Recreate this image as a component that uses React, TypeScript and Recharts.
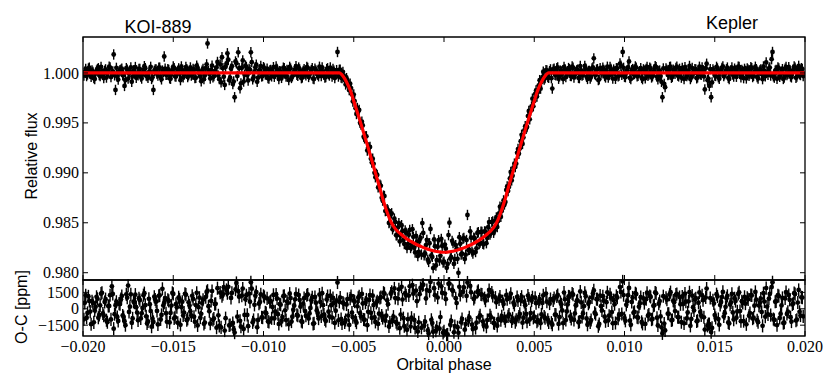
import { ComposedChart, Scatter, Line, XAxis, YAxis, ErrorBar, ReferenceArea } from 'recharts'

// first cadence set: orbital phase in units of 1e-4
const PHASE_E4_A = [
  -199, -198, -197, -196, -195, -194, -193, -192, -191, -190,
  -189, -188, -187, -186, -185, -184, -183, -182, -181, -180,
  -179, -178, -177, -176, -175, -174, -173, -172, -171, -170,
  -169, -168, -167, -166, -165, -164, -163, -162, -161, -160,
  -159, -158, -157, -156, -155, -154, -153, -152, -151, -150,
  -149, -148, -147, -146, -145, -144, -143, -142, -141, -140,
  -139, -138, -137, -136, -135, -134, -133, -132, -131, -130,
  -129, -128, -127, -126, -125, -124, -123, -122, -121, -120,
  -119, -118, -117, -116, -115, -114, -113, -112, -111, -110,
  -109, -108, -107, -106, -105, -104, -103, -102, -101, -100,
  -99, -98, -97, -96, -95, -94, -93, -92, -91, -90,
  -89, -88, -87, -86, -85, -84, -83, -82, -81, -80,
  -79, -78, -77, -76, -75, -74, -73, -72, -71, -70,
  -69, -68, -67, -66, -65, -64, -63, -62, -61, -60,
  -59, -58, -57, -56, -55, -54, -53, -52, -51, -50,
  -49, -48, -47, -46, -45, -44, -43, -42, -41, -40,
  -39, -38, -37, -36, -35, -34, -33, -32, -31, -30,
  -29, -28, -27, -26, -25, -24, -23, -22, -21, -20,
  -19, -18, -17, -16, -15, -14, -13, -12, -11, -10,
  -9, -8, -7, -6, -5, -4, -3, -2, -1, 0,
  1, 2, 3, 4, 5, 6, 7, 8, 9, 10,
  11, 12, 13, 14, 15, 16, 17, 18, 19, 20,
  21, 22, 23, 24, 25, 26, 27, 28, 29, 30,
  31, 32, 33, 34, 35, 36, 37, 38, 39, 40,
  41, 42, 43, 44, 45, 46, 47, 48, 49, 50,
  51, 52, 53, 54, 55, 56, 57, 58, 59, 60,
  61, 62, 63, 64, 65, 66, 67, 68, 69, 70,
  71, 72, 73, 74, 75, 76, 77, 78, 79, 80,
  81, 82, 83, 84, 85, 86, 87, 88, 89, 90,
  91, 92, 93, 94, 95, 96, 97, 98, 99, 100,
  101, 102, 103, 104, 105, 106, 107, 108, 109, 110,
  111, 112, 113, 114, 115, 116, 117, 118, 119, 120,
  121, 122, 123, 124, 125, 126, 127, 128, 129, 130,
  131, 132, 133, 134, 135, 136, 137, 138, 139, 140,
  141, 142, 143, 144, 145, 146, 147, 148, 149, 150,
  151, 152, 153, 154, 155, 156, 157, 158, 159, 160,
  161, 162, 163, 164, 165, 166, 167, 168, 169, 170,
  171, 172, 173, 174, 175, 176, 177, 178, 179, 180,
  181, 182, 183, 184, 185, 186, 187, 188, 189, 190,
  191, 192, 193, 194, 195, 196, 197, 198, 199,
]

// relative flux minus 1, ppm
const FLUX_PPM_A = [
  120, -310, 450, -80, 260, -520, 30, 380, -210, 610,
  -140, 220, -460, 90, 540, -30, 1850, -1700, -380, 150,
  330, -240, -1300, 480, -560, 70, -890, 260, 590, -120,
  410, -350, 20, 680, -270, -480, 160, -600, -1700, 350,
  -90, 520, -410, 240, 1650, -180, 370, -530, 110, 640,
  -330, 50, 460, -720, 280, -150, 590, -410, 130, -260,
  390, -510, 720, 60, -340, 230, -620, 470, 2950, -90,
  310, -440, 180, 550, -270, 860, 1570, -380, 640, 1970,
  -720, 430, -1100, -2430, 980, 2070, -1530, 520, -860, 740,
  -230, 390, 2070, -640, 150, 820, -470, 260, -350, 580,
  -150, 420, -560, 310, 70, -380, 640, -220, 180, -490,
  530, -60, 290, -710, 440, -330, 120, 670, -280, 360,
  -520, 210, -90, 590, -400, 30, 480, -610, 250, -170,
  620, -310, 140, -450, 380, -120, 540, -360, 230, -80,
  2100, 310, -470, 110, -730, -520, -1360, -1080, -2150, -2160,
  -3530, -3510, -3700, -5160, -5250, -6550, -6340, -7470, -7410, -8970,
  -9100, -10440, -10210, -11350, -11300, -12780, -12330, -13790, -13770, -14960,
  -14050, -15430, -14920, -16260, -15030, -16290, -15840, -17120, -15990, -17130,
  -15720, -17330, -16410, -17970, -16940, -17910, -16520, -15030, -18260, -17230,
  -18690, -17050, -18270, -19540, -17340, -18740, -16750, -18310, -17325, -18900,
  -17595, -19120, -14990, -18440, -17030, -18630, -17580, -20010, -17100, -18080,
  -16520, -18190, -14220, -17700, -16490, -18070, -16570, -17560, -15950, -16980,
  -15910, -17150, -15890, -16520, -14930, -16010, -14860, -15740, -14470, -14820,
  -13390, -13810, -12760, -12920, -11370, -11410, -9910, -10290, -9080, -9080,
  -7620, -7570, -6190, -6470, -5330, -5410, -3810, -3780, -2580, -2820,
  -1750, -1940, -720, -910, 120, -500, 240, -480, 360, -1560,
  420, -230, 560, -340, 150, -610, 380, -70, 490, -290,
  640, -450, 110, 330, -520, 250, -180, 700, -390, 190,
  -560, 450, 1460, -220, 380, -640, 90, 520, -310, 270,
  -470, 610, -120, 340, -580, 460, -250, 720, 2100, -380,
  150, 560, -490, 280, -160, 650, -330, 80, 470, -620,
  240, 390, -280, 530, -450, 120, 680, -370, 210, -310,
  -2430, -1100, 460, -200, 590, -480, 330, -90, 620, -340,
  180, 510, -610, 290, -150, 700, -420, 60, 380, -530,
  240, -130, 560, -350, 470, -720, -1300, -2430, 350, -260,
  610, -430, 150, 490, -320, 80, 540, -610, 270, -150,
  430, -380, 620, -90, 310, -520, 210, 460, -290, 580,
  -410, 130, 380, -560, 240, -130, 650, -330, 90, 420,
  -260, 2100, -470, 310, 560, -380, 140, -600, 430, -220,
  570, -350, 180, 650, -490, 260, -130, 480, -310,
]

// observed minus computed, ppm
const OC_PPM_A = [
  540, -820, 1130, -260, 690, -1240, 180, 910, -570, 1380,
  -430, 620, -1050, 250, 1240, 2050, -1820, 330, -760, 470,
  880, -610, -1150, 1320, 2120, 190, -1280, 640, 1290, -350,
  960, -880, 70, 1430, -690, -1160, 420, -1640, -1200, 850,
  -200, 1180, -970, 1820, 560, -410, 830, -1250, 290, 1360,
  -780, 140, 1050, -1470, 640, -350, 1290, -920, 310, -600,
  900, -1190, 1460, 150, -810, 520, -1380, 1070, 1650, -230,
  720, -1010, 430, -1730, -600, 1480, 1150, 1970, -860, 1420,
  -1520, 990, -1300, -2180, 2360, 1600, -1100, 1200, -1850, 870,
  -560, 1380, 2420, -1240, 360, 1530, -1020, 610, -780, 1180,
  -330, 950, -1210, 700, 160, -880, 1310, -500, 420, -1090,
  1150, -140, 660, -1420, 980, -730, 280, 1360, -640, 820,
  -1130, 470, -210, 1240, -890, 70, 1050, -1330, 560, -380,
  1300, -690, 330, -980, 850, -270, 1190, -810, 520, -180,
  2400, 640, -950, 560, -1240, 390, -620, 930, -350, 760,
  -1080, 220, 1130, -700, 480, -1010, 850, -280, 1250, -830,
  340, -1200, 690, -450, 1060, -850, 1380, -640, 420, -1260,
  1550, -720, 980, -1380, 1780, -530, 840, -1600, 1230, -950,
  2050, -820, 1380, -1750, 690, -1240, 1900, 2150, -1530, 940,
  -1980, 1620, -1010, -2100, 1240, -1690, 2300, -760, 1450, -2050,
  880, -2350, 2300, -1120, 1630, -1580, 520, -2200, 1270, -930,
  1950, -1400, 2400, -780, 1500, -1850, 1060, -1270, 1640, -600,
  1290, -1480, 740, -1030, 1720, -790, 1180, -1340, 590, -960,
  1120, -680, 430, -1130, 880, -520, 1370, -880, 350, -1010,
  760, -470, 1100, -820, 330, -1180, 940, -390, 1050, -730,
  510, -1040, 870, -520, 1230, -860, 640, -1250, 890, -1450,
  980, -560, 1260, -770, 410, -1320, 860, -250, 1130, -690,
  1400, -1020, 330, 770, -1180, 590, -430, 1450, -880, 460,
  -1250, 1040, 1680, -490, 870, -1390, 230, 1150, -720, 600,
  -1060, 1330, -300, 790, -1300, 1020, -560, 1540, 2500, -850,
  360, 1240, -1090, 630, -370, 1420, -760, 190, 1060, -1380,
  520, 880, -640, 1170, -990, 270, 1490, -820, 460, -700,
  -2250, -1350, 1010, -450, 1290, -1060, 740, -210, 1350, -780,
  410, 1120, -1330, 650, -340, 1510, -930, 140, 860, -1150,
  550, -290, 1220, -780, 1030, -1560, -1400, -2130, 780, -580,
  1330, -940, 340, 1070, -710, 180, 1180, -1340, 590, -330,
  960, -820, 1360, -210, 690, -1130, 470, 1010, -640, 1250,
  -900, 280, 830, -1230, 540, -290, 1420, -720, 200, 930,
  -580, 2420, -1020, 680, 1240, -840, 310, -1310, 950, -480,
  1260, -770, 400, 1430, -1080, 570, -280, 1050, -690,
]

// second cadence set: orbital phase in units of 1e-5
const PHASE_E5_B = [
  -1995, -1985, -1975, -1965, -1955, -1945, -1935, -1925, -1915, -1905,
  -1895, -1885, -1875, -1865, -1855, -1845, -1835, -1825, -1815, -1805,
  -1795, -1785, -1775, -1765, -1755, -1745, -1735, -1725, -1715, -1705,
  -1695, -1685, -1675, -1665, -1655, -1645, -1635, -1625, -1615, -1605,
  -1595, -1585, -1575, -1565, -1555, -1545, -1535, -1525, -1515, -1505,
  -1495, -1485, -1475, -1465, -1455, -1445, -1435, -1425, -1415, -1405,
  -1395, -1385, -1375, -1365, -1355, -1345, -1335, -1325, -1315, -1305,
  -1295, -1285, -1275, -1265, -1255, -1245, -1235, -1225, -1215, -1205,
  -1195, -1185, -1175, -1165, -1155, -1145, -1135, -1125, -1115, -1105,
  -1095, -1085, -1075, -1065, -1055, -1045, -1035, -1025, -1015, -1005,
  -995, -985, -975, -965, -955, -945, -935, -925, -915, -905,
  -895, -885, -875, -865, -855, -845, -835, -825, -815, -805,
  -795, -785, -775, -765, -755, -745, -735, -725, -715, -705,
  -695, -685, -675, -665, -655, -645, -635, -625, -615, -605,
  -595, -585, -575, -565, -555, -545, -535, -525, -515, -505,
  -495, -485, -475, -465, -455, -445, -435, -425, -415, -405,
  -395, -385, -375, -365, -355, -345, -335, -325, -315, -305,
  -295, -285, -275, -265, -255, -245, -235, -225, -215, -205,
  -195, -185, -175, -165, -155, -145, -135, -125, -115, -105,
  -95, -85, -75, -65, -55, -45, -35, -25, -15, -5,
  5, 15, 25, 35, 45, 55, 65, 75, 85, 95,
  105, 115, 125, 135, 145, 155, 165, 175, 185, 195,
  205, 215, 225, 235, 245, 255, 265, 275, 285, 295,
  305, 315, 325, 335, 345, 355, 365, 375, 385, 395,
  405, 415, 425, 435, 445, 455, 465, 475, 485, 495,
  505, 515, 525, 535, 545, 555, 565, 575, 585, 595,
  605, 615, 625, 635, 645, 655, 665, 675, 685, 695,
  705, 715, 725, 735, 745, 755, 765, 775, 785, 795,
  805, 815, 825, 835, 845, 855, 865, 875, 885, 895,
  905, 915, 925, 935, 945, 955, 965, 975, 985, 995,
  1005, 1015, 1025, 1035, 1045, 1055, 1065, 1075, 1085, 1095,
  1105, 1115, 1125, 1135, 1145, 1155, 1165, 1175, 1185, 1195,
  1205, 1215, 1225, 1235, 1245, 1255, 1265, 1275, 1285, 1295,
  1305, 1315, 1325, 1335, 1345, 1355, 1365, 1375, 1385, 1395,
  1405, 1415, 1425, 1435, 1445, 1455, 1465, 1475, 1485, 1495,
  1505, 1515, 1525, 1535, 1545, 1555, 1565, 1575, 1585, 1595,
  1605, 1615, 1625, 1635, 1645, 1655, 1665, 1675, 1685, 1695,
  1705, 1715, 1725, 1735, 1745, 1755, 1765, 1775, 1785, 1795,
  1805, 1815, 1825, 1835, 1845, 1855, 1865, 1875, 1885, 1895,
  1905, 1915, 1925, 1935, 1945, 1955, 1965, 1975, 1985,
]

const FLUX_PPM_B = [
  -260, 410, -150, 530, -380, 90, -610, 240, 470, -320,
  180, -520, 360, -90, 620, -410, 150, -240, 510, -660,
  270, 430, -180, -720, 320, -40, 560, -350, 110, -480,
  -230, 390, -560, 140, 470, -310, 60, 610, -420, 200,
  350, -270, 530, -640, 80, 420, -190, 300, -580, 160,
  480, -360, 220, -90, 650, -440, 10, 370, -230, 550,
  -170, 300, -480, 510, -60, -830, 410, -250, 860, 190,
  -560, 730, -320, 120, 1100, -620, -940, 480, -1200, 930,
  1320, -480, 680, -860, 1150, -310, 470, -1040, 1250, -180,
  600, -750, 310, 1080, -420, 560, -890, 240, 690, -300,
  450, -120, -520, 260, -340, 580, -60, 390, -610, 130,
  -240, 470, -370, 200, 610, -500, -30, 340, -180, 540,
  60, -450, 380, -230, 510, -160, 290, -570, 420, -40,
  -330, 250, 560, -190, -400, 470, -260, 130, 390, -510,
  280, -360, 335, -515, -270, -1150, -750, -1720, -1515, -2855,
  -2820, -4110, -3850, -4980, -4880, -6380, -6360, -7760, -7480, -8590,
  -8590, -10000, -10100, -11460, -11195, -12485, -12280, -13830, -13630, -15020,
  -14135, -15655, -14590, -16250, -15460, -16870, -15245, -16715, -15765, -17525,
  -16205, -17525, -15650, -17500, -16325, -18335, -16710, -18180, -16025, -18065,
  -16710, -18920, -15625, -18415, -16670, -19280, -17410, -18785, -16615, -18995,
  -17185, -19515, -16235, -18580, -16810, -19120, -17235, -18605, -16440, -18170,
  -16605, -18625, -16730, -17740, -15855, -17885, -16490, -17930, -16015, -17125,
  -15905, -17105, -15865, -17045, -15450, -16180, -14930, -16000, -14755, -15435,
  -14060, -14410, -13130, -13170, -11715, -11815, -10560, -10760, -9490, -9420,
  -8000, -8100, -6830, -7110, -5740, -5580, -4320, -4640, -3360, -3340,
  -2105, -2355, -1240, -1570, -420, -650, 285, -415, 180, -520,
  340, -190, 470, -580, 230, -60, 610, -420, 150, 380,
  -310, 520, -140, 260, -490, 690, -250, 80, 440, -600,
  210, -370, 560, -120, 330, -710, 480, -30, 290, -450,
  620, -220, 390, -560, 150, 470, -330, 940, -180, 510,
  -420, 260, 1150, -610, 390, -90, 530, -280, 170, -480,
  360, -540, 600, -170, 420, -330, 90, 570, -640, 240,
  -890, 450, -1420, 310, -150, 620, -380, 200, 510, -260,
  410, -470, 130, 580, -320, 240, -610, 490, -40, 350,
  -440, 620, -190, 280, -1650, 920, -560, 380, -950, 170,
  -300, 450, -580, 210, 660, -130, 370, -490, 120, 540,
  -360, 250, -70, 600, -430, 180, 410, -550, 320, -120,
  480, -290, 620, -400, 90, 350, -620, 230, 1050, -180,
  540, 1380, -330, 220, -590, 460, -150, 380, -470, 610,
  -80, 300, -440, 170, 520, -360, 710, -210, 390,
]

const OC_PPM_B = [
  -960, 1240, -380, 720, -1410, 530, -150, 1090, -820, 310,
  1460, -640, 880, -1230, 260, -970, 1350, -490, 640, -1120,
  430, 1170, -760, -1500, 1010, -290, 1320, -880, 560, 150,
  -1060, 790, -420, 1240, 330, -1350, 910, -210, -920, 1100,
  640, -1430, 1230, -560, 310, 980, -1190, 720, -380, 1450,
  -880, 420, -1280, 860, 150, -620, 1370, -1040, 590, -260,
  1180, -730, 340, -1520, 1010, -460, 820, -1260, 1540, 230,
  -1370, 1620, -890, 450, 1880, -1560, -1700, 1330, -1990, 1720,
  2010, -1480, 1450, -1900, 1760, -720, 1100, -1640, 1850, -560,
  1230, -1590, 640, 1840, -1020, 1190, -1700, 470, 1320, -810,
  1080, -400, -1160, 620, -870, 1270, -240, 940, -1390, 370,
  -760, 1190, -1030, 520, 1380, -1170, -90, 860, -560, 1250,
  190, -1210, 970, -640, 1310, -430, 780, -1380, 1080, -150,
  -900, 630, 1420, -520, -1120, 1160, -690, 320, 990, -1300,
  760, -1060, 1020, -1340, 450, -1030, 890, -1480, 1170, -770,
  650, -1270, 1010, -400, 1360, -980, 560, -1500, 810, -370,
  1190, -800, 540, -1390, 980, -620, 1470, -1090, 770, -1620,
  1380, -1050, 1860, -1230, 920, -1780, 2010, -860, 1430, -1920,
  1210, -1630, 2150, -1020, 1660, -2080, 1330, -1740, 2200, -1180,
  1710, -2260, 2450, -1310, 1880, -2010, 1020, -1820, 2050, -2200,
  1390, -2380, 2280, -1460, 1720, -2150, 960, -1690, 2010, -1240,
  1560, -1910, 1170, -1070, 2080, -1450, 890, -1760, 1530, -780,
  1320, -1170, 970, -1640, 1190, -600, 1480, -1300, 1020, -1560,
  860, -1040, 690, -870, 1240, -700, 1010, -1150, 560, -1220,
  1080, -720, 840, -1270, 620, -480, 1210, -980, 750, -830,
  1010, -1180, 650, -1320, 530, -720, 1390, -1010, 480, -1270,
  760, -540, 1130, -1390, 620, -160, 1480, -1030, 400, 1100,
  -930, 1290, -430, 690, -1240, 1580, -750, 240, 1150, -1460,
  620, -1030, 1390, -360, 880, -1600, 1210, -150, 760, -1140,
  1500, -640, 1010, -1330, 420, 1170, -900, 1980, -480, 1250,
  -1100, 680, 1900, -1460, 1030, -280, 1340, -820, 490, -1200,
  930, -1390, 1470, -520, 1080, -930, 320, 1410, -1530, 700,
  -1700, 1150, -1980, 830, -460, 1520, -1020, 600, 1290, -760,
  1070, -1230, 430, 1390, -890, 680, -1560, 1210, -150, 960,
  -1090, 1490, -610, 790, -1900, 1850, -1410, 980, -1750, 480,
  -840, 1130, -1470, 620, 1540, -410, 970, -1250, 380, 1360,
  -990, 700, -240, 1500, -1130, 530, 1090, -1420, 860, -390,
  1220, -810, 1540, -1050, 290, 930, -1560, 660, 1890, -520,
  1350, 1980, -940, 640, -1490, 1160, -460, 990, -1280, 1530,
  -270, 820, -1170, 490, 1340, -1000, 1720, -620, 1020,
]

const FLUX_ERR_PPM = 520
const OC_ERR_PPM = 600

// transit model
const MODEL_PHASE_E4 = [
  -200, -58, -56, -54, -52, -50, -48, -46, -44, -42, -40, -38, -36, -34, -32, -30,
  -28, -26, -24, -22, -20, -18, -16, -14, -12, -10, -8, -6, -4, -2, 0,
  2, 4, 6, 8, 10, 12, 14, 16, 18, 20, 22, 24, 26, 28,
  30, 32, 34, 36, 38, 40, 42, 44, 46, 48, 50, 52, 54, 56, 58, 200,
]
const MODEL_PPM = [
  0, 0, -300, -900, -1700, -2800, -3950, -5100, -6300, -7500, -8750, -10000, -11250, -12550, -13700, -14650,
  -15350, -15800, -16120, -16420, -16680, -16900, -17100, -17280, -17440, -17580, -17700, -17800, -17880, -17930, -17950,
  -17930, -17880, -17800, -17700, -17580, -17440, -17280, -17100, -16900, -16680, -16420, -16120, -15800, -15350,
  -14650, -13700, -12550, -11250, -10000, -8750, -7500, -6300, -5100, -3950, -2800, -1700, -900, -300, 0, 0,
]

const X_TICKS = [-0.02, -0.015, -0.01, -0.005, 0, 0.005, 0.01, 0.015, 0.02]
const FLUX_TICKS = [0.98, 0.985, 0.99, 0.995, 1.0]
const OC_TICKS = [-1500, 0, 1500]

const points = [
  ...PHASE_E4_A.map((p, i) => ({ phase: p / 1e4, flux: 1 + FLUX_PPM_A[i] / 1e6, oc: OC_PPM_A[i] })),
  ...PHASE_E5_B.map((p, i) => ({ phase: p / 1e5, flux: 1 + FLUX_PPM_B[i] / 1e6, oc: OC_PPM_B[i] })),
].map((d) => ({ ...d, fluxErr: FLUX_ERR_PPM / 1e6, ocErr: OC_ERR_PPM }))

const model = MODEL_PHASE_E4.map((p, i) => ({ phase: p / 1e4, flux: 1 + MODEL_PPM[i] / 1e6 }))

const W = 830
const PLOT_L = 83
const PLOT_R = 805
const PLOT_W = PLOT_R - PLOT_L
const MAIN_H = 243
const OC_H = 56
const SERIF = '"Liberation Serif", "Times New Roman", serif'
const SANS = '"Liberation Sans", Arial, sans-serif'
const TICK = 5

const minus = (s: string) => s.replace('-', '\u2212')

const XTick = ({ x, y, payload, plotH, label }: any) => (
  <g>
    <line x1={x} y1={y} x2={x} y2={y - TICK} stroke="#000" strokeWidth={1} />
    <line x1={x} y1={y - plotH} x2={x} y2={y - plotH + TICK} stroke="#000" strokeWidth={1} />
    {label && (
      <text x={x} y={y + 15.7} textAnchor="middle" fontFamily={SERIF} fontSize={16} fill="#000">
        {minus(Number(payload.value).toFixed(3))}
      </text>
    )}
  </g>
)

const YTick = ({ x, y, payload, fmt }: any) => (
  <g>
    <line x1={x} y1={y} x2={x + TICK} y2={y} stroke="#000" strokeWidth={1} />
    <line x1={x + PLOT_W} y1={y} x2={x + PLOT_W - TICK} y2={y} stroke="#000" strokeWidth={1} />
    <text x={x - 4} y={y} dy="0.35em" textAnchor="end" fontFamily={SERIF} fontSize={16} fill="#000">
      {fmt(payload.value)}
    </text>
  </g>
)

const dot = (p: any) => <circle cx={p.cx} cy={p.cy} r={2.4} fill="#000" />

const FLUX_DOMAIN = [0.97927, 1.0036]
const OC_DOMAIN = [-2490, 2630]

export default function App() {
  return (
    <div style={{ position: 'absolute', left: 0, top: 0, width: W, height: 374, background: '#fff' }}>
      <div style={{ position: 'absolute', left: 0, top: 0 }}>
        <ComposedChart width={W} height={282} margin={{ top: 37, right: W - PLOT_R, bottom: 0, left: 0 }}>
          <XAxis
            type="number"
            dataKey="phase"
            domain={[-0.02, 0.02]}
            ticks={X_TICKS}
            interval={0}
            allowDataOverflow
            height={2}
            axisLine={false}
            tickLine={false}
            tickSize={0}
            tickMargin={0}
            tick={(p: any) => <XTick {...p} plotH={MAIN_H} label={false} />}
          />
          <YAxis
            type="number"
            dataKey="flux"
            domain={FLUX_DOMAIN}
            ticks={FLUX_TICKS}
            interval={0}
            allowDataOverflow
            width={PLOT_L}
            axisLine={false}
            tickLine={false}
            tickSize={0}
            tickMargin={0}
            tick={(p: any) => <YTick {...p} fmt={(v: number) => v.toFixed(3)} />}
          />
          <Scatter data={points} dataKey="flux" shape={dot} isAnimationActive={false}>
            <ErrorBar dataKey="fluxErr" direction="y" width={0} stroke="#000" strokeWidth={1.4} isAnimationActive={false} />
          </Scatter>
          <Line
            data={model}
            dataKey="flux"
            type="monotone"
            stroke="#ff0000"
            strokeWidth={3.2}
            dot={false}
            activeDot={false}
            isAnimationActive={false}
            zIndex={1500}
          />
          <ReferenceArea
            x1={-0.02}
            x2={0.02}
            y1={FLUX_DOMAIN[0]}
            y2={FLUX_DOMAIN[1]}
            fill="none"
            stroke="#000"
            strokeWidth={1.3}
            zIndex={1600}
          />
        </ComposedChart>
      </div>
      <div style={{ position: 'absolute', left: 0, top: 270 }}>
        <ComposedChart width={W} height={104} margin={{ top: 10, right: W - PLOT_R, bottom: 0, left: 0 }}>
          <XAxis
            type="number"
            dataKey="phase"
            domain={[-0.02, 0.02]}
            ticks={X_TICKS}
            interval={0}
            allowDataOverflow
            height={38}
            axisLine={false}
            tickLine={false}
            tickSize={0}
            tickMargin={0}
            tick={(p: any) => <XTick {...p} plotH={OC_H} label />}
          />
          <YAxis
            type="number"
            dataKey="oc"
            domain={OC_DOMAIN}
            ticks={OC_TICKS}
            interval={0}
            allowDataOverflow
            width={PLOT_L}
            axisLine={false}
            tickLine={false}
            tickSize={0}
            tickMargin={0}
            tick={(p: any) => <YTick {...p} fmt={(v: number) => minus(String(v))} />}
          />
          <Scatter data={points} dataKey="oc" shape={dot} isAnimationActive={false}>
            <ErrorBar dataKey="ocErr" direction="y" width={0} stroke="#000" strokeWidth={1.4} isAnimationActive={false} />
          </Scatter>
          <ReferenceArea
            x1={-0.02}
            x2={0.02}
            y1={OC_DOMAIN[0]}
            y2={OC_DOMAIN[1]}
            fill="none"
            stroke="#000"
            strokeWidth={1.3}
            zIndex={1600}
          />
        </ComposedChart>
      </div>
      <svg width={W} height={374} style={{ position: 'absolute', left: 0, top: 0, pointerEvents: 'none' }}>
        <text x={158} y={33.3} textAnchor="middle" fontFamily={SANS} fontSize={18} fill="#000">KOI-889</text>
        <text x={732} y={29.3} textAnchor="middle" fontFamily={SANS} fontSize={18} fill="#000">Kepler</text>
        <text
          x={31}
          y={156}
          transform="rotate(-90 31 156)"
          textAnchor="middle"
          dominantBaseline="central"
          fontFamily={SANS}
          fontSize={16}
          fill="#000"
        >
          Relative flux
        </text>
        <text
          x={21}
          y={307}
          transform="rotate(-90 21 307)"
          textAnchor="middle"
          dominantBaseline="central"
          fontFamily={SANS}
          fontSize={16}
          fill="#000"
        >
          O-C [ppm]
        </text>
        <text x={444} y={370} textAnchor="middle" fontFamily={SANS} fontSize={16} fill="#000">Orbital phase</text>
      </svg>
    </div>
  )
}
